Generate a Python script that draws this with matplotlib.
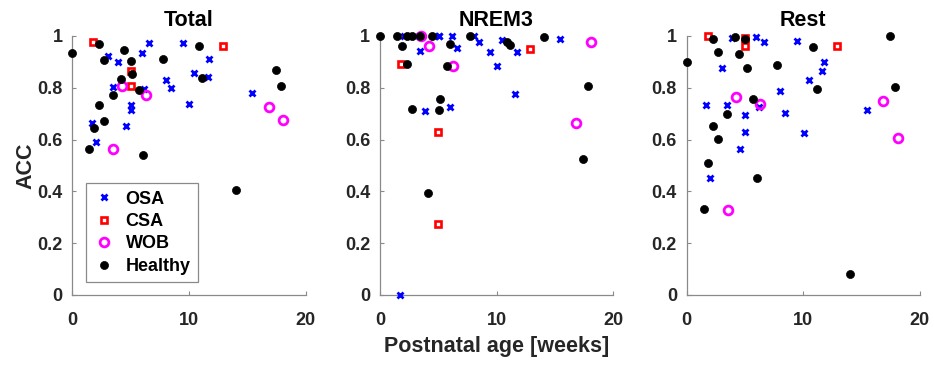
import matplotlib
matplotlib.use("Agg")
import matplotlib.pyplot as plt

plt.rcParams['font.family'] = ['Liberation Sans', 'DejaVu Sans']
plt.rcParams['font.weight'] = 'bold'

panel_titles = ["Total", "NREM3", "Rest"]
group_names = ["OSA", "CSA", "WOB", "Healthy"]

# Postnatal age (weeks) of each infant, per group
osa_age = [1.7, 2.02, 3.02, 3.45, 3.88, 4.59, 5.02, 5.02, 5.99, 6.17,
           6.6, 8.03, 8.46, 9.46, 10.03, 10.46, 11.6, 11.75, 15.44]
csa_age = [1.8, 4.98, 4.98, 12.88]
wob_age = [3.52, 4.22, 6.28, 16.83, 18.1]
healthy_age = [0.0, 1.45, 1.87, 2.3, 2.3, 2.72, 2.72, 3.45, 4.15, 4.45,
               5.02, 5.15, 5.73, 6.02, 7.73, 10.87, 11.15, 14.03, 17.45, 17.87]

# Accuracy per group for each panel
osa_total = [0.664, 0.590, 0.921, 0.804, 0.901, 0.652, 0.732, 0.713, 0.936, 0.797,
             0.973, 0.831, 0.800, 0.973, 0.739, 0.856, 0.843, 0.910, 0.781]
osa_nrem3 = [0.0, 1.0, 1.0, 0.941, 0.712, 1.0, 1.0, 1.0, 0.727, 1.0,
             0.954, 1.0, 0.976, 0.938, 0.883, 0.986, 0.776, 0.940, 0.990]
osa_rest = [0.735, 0.453, 0.878, 0.732, 0.991, 0.562, 0.694, 0.629, 0.995, 0.727,
            0.975, 0.786, 0.701, 0.980, 0.624, 0.831, 0.865, 0.901, 0.715]

csa_total = [0.976, 0.866, 0.805, 0.961]
csa_nrem3 = [0.892, 0.628, 0.274, 0.949]
csa_rest = [1.0, 0.994, 0.963, 0.963]

wob_total = [0.562, 0.806, 0.773, 0.726, 0.676]
wob_nrem3 = [1.0, 0.960, 0.883, 0.664, 0.976]
wob_rest = [0.327, 0.764, 0.738, 0.748, 0.605]

healthy_total = [0.936, 0.562, 0.643, 0.969, 0.732, 0.906, 0.673, 0.771, 0.834, 0.946,
                 0.902, 0.853, 0.791, 0.541, 0.910, 0.962, 0.838, 0.405, 0.870, 0.806]
healthy_nrem3 = [1.0, 1.0, 0.960, 1.0, 0.892, 1.0, 0.717, 1.0, 0.393, 1.0,
                 0.713, 0.755, 0.883, 0.970, 1.0, 0.975, 0.964, 0.995, 0.524, 0.806]
healthy_rest = [0.900, 0.333, 0.508, 0.987, 0.651, 0.939, 0.604, 0.697, 0.997, 0.931,
                0.989, 0.878, 0.758, 0.453, 0.887, 0.959, 0.795, 0.082, 0.999, 0.804]

panel_data = [
    (osa_total, csa_total, wob_total, healthy_total),
    (osa_nrem3, csa_nrem3, wob_nrem3, healthy_nrem3),
    (osa_rest, csa_rest, wob_rest, healthy_rest),
]
ages = (osa_age, csa_age, wob_age, healthy_age)

styles = [
    dict(marker='x', color='#0000ff', ms=5, mew=2.0, mfc='#0000ff', mec='#0000ff'),
    dict(marker='s', color='#ff0000', ms=4.3, mew=1.9, mfc='white', mec='#ff0000'),
    dict(marker='o', color='#ff00ff', ms=6.3, mew=2.0, mfc='none', mec='#ff00ff'),
    dict(marker='o', color='black', ms=5.8, mew=0.5, mfc='black', mec='black'),
]

fig = plt.figure(figsize=(9.34, 3.65), dpi=100)
lefts = [0.0776, 0.4069, 0.7352]
axes = []
text_col = '#262626'
axis_col = '#8a8a8a'
for i, left in enumerate(lefts):
    ax = fig.add_axes([left, 0.1918, 0.2495, 0.7096])
    axes.append(ax)
    for age, vals, st, name in zip(ages, panel_data[i], styles, group_names):
        ax.plot(age, vals, linestyle='none', clip_on=False, label=name, zorder=3, **st)
    ax.set_xlim(0, 20)
    ax.set_ylim(0, 1)
    ax.set_xticks([0, 10, 20])
    ax.set_yticks([0, 0.2, 0.4, 0.6, 0.8, 1.0])
    ax.set_yticklabels(['0', '0.2', '0.4', '0.6', '0.8', '1'])
    for side in ('top', 'right'):
        ax.spines[side].set_visible(False)
    for side in ('left', 'bottom'):
        ax.spines[side].set_color(axis_col)
        ax.spines[side].set_linewidth(0.9)
    ax.tick_params(axis='both', direction='in', length=3, width=0.8,
                   color=axis_col, labelsize=13, labelcolor=text_col)
    ax.tick_params(axis='y', pad=7)
    ax.tick_params(axis='x', pad=12.5)
    for lab in ax.get_xticklabels() + ax.get_yticklabels():
        lab.set_fontweight('bold')
    ax.set_title(panel_titles[i], fontsize=15.5, fontweight='bold', pad=7, color='black')

axes[0].set_ylabel('ACC', fontsize=15.5, fontweight='bold', color=text_col, labelpad=1)
axes[1].set_xlabel('Postnatal age [weeks]', fontsize=15.5, fontweight='bold',
                   color=text_col, labelpad=5)

leg = axes[0].legend(loc='lower left', bbox_to_anchor=(0.058, 0.05), borderaxespad=0,
                     prop={'weight': 'bold', 'size': 13}, handlelength=1.2,
                     handletextpad=0.6, labelspacing=0.3, borderpad=0.4,
                     fancybox=False, framealpha=1)
leg.get_frame().set_edgecolor(axis_col)
leg.get_frame().set_linewidth(0.9)
for t in leg.get_texts():
    t.set_color('black')

fig.savefig('out.png', dpi=100)
